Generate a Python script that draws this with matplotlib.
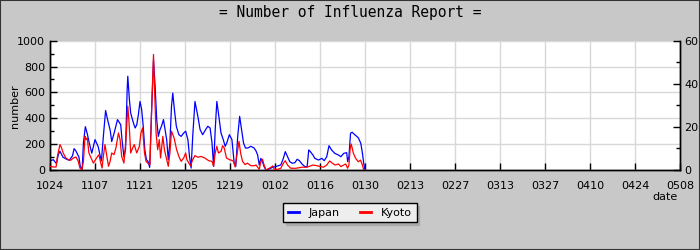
import matplotlib
matplotlib.use("Agg")
import matplotlib.pyplot as plt
from matplotlib.patches import Rectangle
from matplotlib.ticker import MultipleLocator
from matplotlib.lines import Line2D

# ---- data (day offset from Oct 24, value) ----
tick_labels = ["1024", "1107", "1121", "1205", "1219", "0102", "0116", "0130",
               "0213", "0227", "0313", "0327", "0410", "0424", "0508"]

japan_t = [0, 1, 2, 2.6, 3.1, 4, 5, 6, 7, 7.5, 8, 9, 9.4, 10, 10.4, 11, 11.6, 12.2, 13, 14,
           15, 15.6, 16, 16.6, 17.3, 18, 18.7, 19.2, 20, 21, 22, 22.4, 23, 23.5, 24, 24.2,
           24.7, 25.1, 26, 26.5, 27, 27.5, 28, 28.5, 29, 29.5, 30, 30.5, 31, 31.6, 32.2,
           32.7, 33.2, 33.7, 34.2, 34.7, 35.3, 35.8, 36.3, 36.8, 37.3, 37.8, 38.2, 38.7,
           39.3, 40.1, 40.8, 41.6, 42.2, 42.9, 43.4, 43.9, 44.4, 45.1, 46, 46.7, 47.5,
           48.4, 49.1, 49.8, 50.4, 50.9, 51.4, 51.9, 52.4, 53.2, 53.9, 54.5, 55, 55.8,
           56.6, 57.3, 57.8, 58.4, 59, 59.6, 60.2, 60.8, 61.5, 62.5, 63.5, 64.1, 64.6,
           65.1, 65.6, 66.1, 66.6, 67.2, 68.2, 69.3, 70.8, 71.8, 72.6, 73.2, 73.9, 74.6,
           75.4, 76.2, 76.9, 77.6, 78.4, 79.3, 80.0, 80.5, 81.0, 81.8, 82.4, 83.5, 84.6,
           85.3, 86.1, 86.8, 87.6, 88.6, 89.7, 90.5, 91.4, 92.3, 92.6, 93, 93.5, 94,
           94.9, 95.9, 96.7, 97.2, 97.6, 98]
japan_v = [70, 80, 50, 120, 145, 100, 85, 75, 110, 165, 150, 100, 30, 0, 210, 335, 280, 210,
           130, 235, 180, 110, 70, 260, 460, 380, 310, 220, 290, 390, 350, 235, 100, 157,
           620, 725, 545, 440, 360, 325, 350, 430, 530, 470, 340, 157, 80, 67, 20, 450,
           850, 650, 390, 260, 310, 340, 390, 310, 235, 80, 210, 493, 595, 467, 338, 273,
           260, 286, 300, 235, 105, 15, 260, 530, 415, 312, 273, 312, 338, 325, 210, 28,
           312, 530, 440, 286, 235, 183, 210, 273, 235, 54, 28, 260, 415, 312, 210, 170,
           170, 183, 170, 147, 116, 39, 90, 64, 26, 0, 8, 21, 31, 39, 90, 142, 103, 64,
           52, 57, 83, 72, 46, 26, 26, 155, 142, 116, 90, 77, 90, 72, 103, 188, 155, 129,
           116, 103, 129, 134, 64, 103, 284, 292, 271, 250, 206, 129, 52, 0]

kyoto_t = [0, 1, 1.9, 2.3, 3.1, 3.6, 4.1, 4.9, 5.7, 6.4, 7.3, 8.1, 8.8, 9.3, 9.9, 10.4,
           10.9, 11.2, 11.6, 12.1, 13, 13.5, 14.5, 15.2, 15.8, 16.2, 16.6, 17.1, 17.6,
           18.2, 18.7, 19.2, 19.9, 20.5, 21.3, 21.8, 22.3, 23, 23.7, 24.2, 24.6, 25.1,
           25.7, 26.2, 27, 27.8, 28.3, 28.8, 29.4, 29.9, 30.4, 31.1, 31.6, 32.2, 32.6, 33,
           33.5, 34, 34.4, 35.1, 35.6, 36.3, 36.8, 37.3, 37.8, 38.6, 39.4, 40.1, 40.8,
           41.6, 42.2, 42.6, 43.2, 43.7, 44.4, 45.1, 46, 47, 48.1, 49.4, 50.4, 50.9, 51.4,
           51.9, 52.4, 53.2, 53.7, 54.2, 54.9, 55.8, 56.6, 57.1, 57.6, 58.1, 58.8, 59.3,
           59.9, 60.7, 61.4, 62.5, 63.5, 64.1, 65.1, 65.6, 66.1, 66.6, 67.2, 68.8, 69.3,
           69.8, 70.8, 71.8, 72.6, 73.2, 73.9, 74.9, 76.5, 78.4, 80, 81, 81.8, 83, 84.1,
           85.1, 86.1, 87, 87.9, 88.7, 89.7, 90.5, 91.4, 92, 92.6, 93, 93.4, 93.7, 94.4,
           95.1, 95.9, 96.6, 97.2, 97.6, 98]
kyoto_v = [1.7, 1.4, 1.4, 6.3, 11.8, 10.2, 7.9, 5.6, 4.8, 4.5, 5.6, 6.0, 4.0, 0.9, 0, 4.0,
           15.6, 14.1, 14.9, 7.9, 4.8, 3.2, 5.6, 7.1, 3.2, 0.9, 6.3, 11.8, 7.1, 1.7, 4.0,
           7.9, 7.1, 10.2, 17.2, 14.1, 6.3, 3.2, 15.6, 29.6, 21.8, 7.9, 10.2, 11.8, 7.9,
           11.0, 17.2, 19.5, 7.9, 4.0, 3.2, 2.5, 27.3, 53.6, 34.2, 17.2, 9.4, 14.1, 5.6,
           15.6, 9.4, 4.8, 1.7, 7.9, 18.0, 14.9, 9.4, 6.3, 4.0, 5.6, 7.9, 4.8, 3.2, 2.0,
           4.8, 6.7, 5.9, 6.3, 5.6, 4.3, 4.0, 1.7, 7.9, 11.0, 7.9, 8.6, 11.3, 10.2, 5.6,
           4.8, 4.5, 4.0, 1.4, 6.3, 13.3, 7.9, 4.0, 2.5, 3.2, 2.0, 2.0, 2.3, 0.3, 3.8, 5.0,
           2.3, 0, 1.3, 1.9, 0.3, 0.3, 0.8, 3.1, 4.3, 2.3, 0.8, 0.8, 1.3, 1.3, 1.9, 2.3,
           2.0, 1.6, 1.3, 2.3, 4.2, 3.1, 2.3, 2.8, 1.6, 2.3, 2.8, 0.8, 2.3, 10.1, 12.1,
           7.7, 5.4, 3.8, 4.6, 2.3, 0, 0]

BG = "#c8c8c8"
GRID = "#d8d8d8"

fig = plt.figure(figsize=(7, 2.5), dpi=100, facecolor=BG)
fig.patches.append(Rectangle((0, 0), 1, 1, transform=fig.transFigure, fill=False,
                             edgecolor="#333333", linewidth=1.5, zorder=10))

ax = fig.add_axes([50 / 700, 80 / 250, 630 / 700, 129.3 / 250])
ax.set_facecolor("white")
ax2 = ax.twinx()

n_ticks = len(tick_labels)
tick_pos = [14 * i for i in range(n_ticks)]
ax.set_xlim(tick_pos[0], tick_pos[-1])
ax.set_xticks(tick_pos)
ax.set_xticklabels(tick_labels, fontsize=8)
ax.set_ylim(0, 1000)
ax.yaxis.set_major_locator(MultipleLocator(200))
ax.yaxis.set_minor_locator(MultipleLocator(100))
ax2.set_ylim(0, 60)
ax2.yaxis.set_major_locator(MultipleLocator(20))
ax2.yaxis.set_minor_locator(MultipleLocator(10))

ax.grid(True, which="major", color=GRID, linewidth=1.0)
ax.set_axisbelow(True)

ax.plot(japan_t, japan_v, color="#0000ff", linewidth=0.9, zorder=3)
ax2.plot(kyoto_t, kyoto_v, color="#ff0000", linewidth=0.9, zorder=3)

for a in (ax, ax2):
    a.spines["top"].set_visible(False)
    for s in ("left", "right", "bottom"):
        a.spines[s].set_linewidth(1.0)
        a.spines[s].set_color("black")
ax.tick_params(axis="both", which="both", direction="in", labelsize=8, colors="black")
ax.tick_params(axis="both", which="major", length=5, width=1)
ax.tick_params(axis="y", which="minor", length=3, width=1)
ax.tick_params(axis="x", pad=8)
ax2.tick_params(axis="y", which="both", direction="in", labelsize=8, pad=3)
ax2.tick_params(axis="y", which="major", length=5, width=1)
ax2.tick_params(axis="y", which="minor", length=3, width=1)

ax.set_ylabel("number", fontsize=8)
ax.yaxis.set_label_coords(-30 / 630, 0.49)
fig.text(665 / 700, 1 - 197 / 250, "date", fontsize=8, ha="center", va="center")

fig.text(0.5, 1 - 13 / 250, "= Number of Influenza Report =",
         family="DejaVu Sans Mono", fontsize=10.5, ha="center", va="center")

handles = [Line2D([], [], color="#0000ff", linewidth=2),
           Line2D([], [], color="#ff0000", linewidth=2)]
leg = fig.legend(handles, ["Japan", "Kyoto"], loc="center",
                 bbox_to_anchor=(350 / 700, 1 - 212.5 / 250), ncol=2, fontsize=8,
                 frameon=True, fancybox=False, handlelength=1.0, columnspacing=1.8,
                 handletextpad=0.9, borderpad=0.4,
                 shadow={"ox": 2, "oy": -2, "color": "#aaaaaa", "alpha": 1})
leg.get_frame().set_facecolor("#eeeeee")
leg.get_frame().set_edgecolor("black")
leg.get_frame().set_linewidth(1.0)
leg.get_frame().set_alpha(1)

fig.savefig("out.png", dpi=100, facecolor=BG)
